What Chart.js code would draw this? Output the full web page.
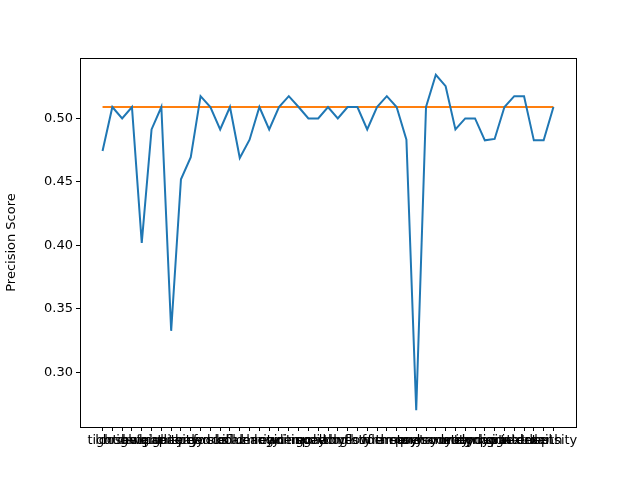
<!DOCTYPE html>
<html><head><script src="https://cdn.jsdelivr.net/npm/chart.js@4"></script>
<style>body{margin:0}#w{width:640px;height:480px}</style></head>
<body><div id="w"><canvas id="c"></canvas></div>
<script>
const labels=["tight","loose","bright","dark","height","weight","quality","capacity","energy","speed","balance","focus","skill","bold","calm","fluency","clarity","logic","reading","writing","memory","recall","speech","dialog","tone","rhythm","flow","style","form","frame","theory","story","poetry","prosody","symmetry","harmony","unity","melody","tempo","dynamic","digital","signal","pattern","texture","detail","depth","density"];
const scores=[0.4743,0.509,0.500,0.509,0.4019,0.4913,0.509,0.3326,0.452,0.4695,0.5175,0.509,0.4913,0.509,0.4688,0.4832,0.509,0.4913,0.509,0.5175,0.509,0.500,0.500,0.509,0.500,0.509,0.509,0.4913,0.509,0.5175,0.509,0.4832,0.270,0.509,0.5344,0.5254,0.4913,0.500,0.500,0.4827,0.4838,0.509,0.5175,0.5175,0.4827,0.4827,0.509];
const baseline=0.509;
const yTicks=[0.30,0.35,0.40,0.45,0.50];
const n=labels.length;
const frame={id:'frame',afterDraw(c){const a=c.chartArea,x=c.ctx;x.save();x.strokeStyle='#000';x.lineWidth=1;x.strokeRect(a.left+0.5,a.top+0.5,a.right-a.left,a.bottom-a.top);x.restore();}};
new Chart(document.getElementById('c'),{type:'line',
data:{datasets:[
{data:scores.map((v,i)=>({x:i,y:v})),borderColor:'#1f77b4',borderWidth:2,pointRadius:0,tension:0},
{data:[{x:0,y:baseline},{x:n-1,y:baseline}],borderColor:'#ff7f0e',borderWidth:2,pointRadius:0}]},
options:{responsive:true,maintainAspectRatio:false,animation:false,
layout:{padding:{top:58,right:64,left:0,bottom:0}},
plugins:{legend:{display:false},tooltip:{enabled:false}},
scales:{
x:{type:'linear',min:-2.3,max:n-1+2.3,grid:{display:true,drawOnChartArea:false,drawTicks:true,tickLength:4,color:'#000'},border:{color:'#000'},
afterBuildTicks:a=>{a.ticks=labels.map((l,i)=>({value:i}));},
afterFit:a=>{a.height=53;},
ticks:{autoSkip:false,maxRotation:0,minRotation:0,color:'#000',padding:2,font:{family:'DejaVu Sans',size:13},callback:(v)=>labels[v]}},
y:{min:0.2568,max:0.5476,grid:{display:true,drawOnChartArea:false,drawTicks:true,tickLength:4,color:'#000'},border:{color:'#000'},
afterBuildTicks:a=>{a.ticks=yTicks.map(v=>({value:v}));},
afterFit:a=>{a.width=80;},
title:{display:true,text:'Precision Score',color:'#000',font:{family:'DejaVu Sans',size:13}},
ticks:{color:'#000',padding:3,font:{family:'DejaVu Sans',size:13},callback:v=>v.toFixed(2)}}}},
plugins:[frame]});
</script></body></html>
